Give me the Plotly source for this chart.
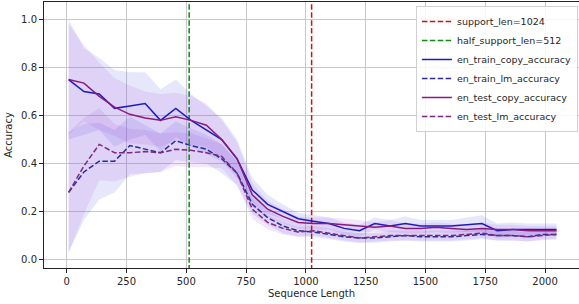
import plotly.graph_objects as go

seq_len = [8, 72, 136, 200, 264, 328, 392, 456, 520, 584, 648, 712, 776, 840, 904, 968,
           1032, 1096, 1160, 1224, 1288, 1352, 1416, 1480, 1544, 1608, 1672, 1736, 1800,
           1864, 1928, 1992, 2048]

train_copy = [0.75, 0.70, 0.69, 0.63, 0.64, 0.65, 0.58, 0.63, 0.58, 0.54, 0.50, 0.42, 0.29,
              0.23, 0.20, 0.17, 0.16, 0.15, 0.13, 0.12, 0.15, 0.14, 0.15, 0.14, 0.14, 0.14,
              0.145, 0.15, 0.12, 0.125, 0.125, 0.125, 0.125]
test_copy = [0.75, 0.735, 0.68, 0.635, 0.605, 0.59, 0.58, 0.595, 0.58, 0.56, 0.50, 0.42, 0.27,
             0.21, 0.18, 0.155, 0.15, 0.15, 0.145, 0.14, 0.135, 0.14, 0.13, 0.13, 0.135, 0.13,
             0.125, 0.13, 0.125, 0.125, 0.12, 0.12, 0.12]
train_lm = [0.28, 0.365, 0.41, 0.41, 0.475, 0.46, 0.445, 0.495, 0.475, 0.46, 0.42, 0.36, 0.23,
            0.175, 0.14, 0.12, 0.115, 0.105, 0.095, 0.09, 0.09, 0.095, 0.10, 0.095, 0.095,
            0.095, 0.10, 0.105, 0.10, 0.10, 0.095, 0.105, 0.105]
test_lm = [0.28, 0.39, 0.48, 0.445, 0.445, 0.45, 0.445, 0.46, 0.455, 0.445, 0.43, 0.36, 0.21,
           0.155, 0.13, 0.115, 0.12, 0.11, 0.10, 0.09, 0.095, 0.10, 0.10, 0.10, 0.10, 0.10,
           0.105, 0.11, 0.10, 0.10, 0.095, 0.10, 0.105]

train_copy_std = [0.25, 0.18, 0.15, 0.16, 0.14, 0.13, 0.13, 0.12, 0.11, 0.10, 0.09, 0.08, 0.05,
                  0.04, 0.03, 0.025, 0.025, 0.025, 0.025, 0.025, 0.025, 0.025, 0.03, 0.025,
                  0.025, 0.025, 0.03, 0.035, 0.03, 0.03, 0.025, 0.025, 0.025]
test_copy_std = [0.23, 0.16, 0.14, 0.12, 0.12, 0.11, 0.11, 0.10, 0.10, 0.09, 0.08, 0.07, 0.05,
                 0.035, 0.03, 0.025, 0.025, 0.025, 0.025, 0.025, 0.02, 0.025, 0.02, 0.02, 0.02,
                 0.02, 0.02, 0.025, 0.02, 0.02, 0.02, 0.02, 0.02]
train_lm_std = [0.25, 0.20, 0.16, 0.13, 0.12, 0.10, 0.08, 0.08, 0.07, 0.06, 0.06, 0.05, 0.04,
                0.03, 0.03, 0.025, 0.02, 0.02, 0.02, 0.02, 0.02, 0.02, 0.02, 0.02, 0.02, 0.02,
                0.02, 0.02, 0.02, 0.02, 0.02, 0.02, 0.02]
test_lm_std = [0.25, 0.20, 0.15, 0.12, 0.10, 0.09, 0.08, 0.07, 0.07, 0.06, 0.05, 0.05, 0.04,
               0.03, 0.025, 0.02, 0.02, 0.02, 0.02, 0.02, 0.02, 0.02, 0.02, 0.02, 0.02, 0.02,
               0.02, 0.02, 0.02, 0.02, 0.02, 0.02, 0.02]

support_len = 1024
half_support_len = 512

TRAIN_C = "#1c1cc0"
TRAIN_LM_C = "#2a2a9a"
TEST_C = "#8a1a7e"
TEST_LM_C = "#7a2a80"
TRAIN_FILL = "rgba(70,70,235,0.13)"
TEST_FILL = "rgba(160,70,210,0.13)"
DASH = "5.5px,2.4px"

fig = go.Figure()

def band(mean, std, fill):
    up = [m + s for m, s in zip(mean, std)]
    lo = [m - s for m, s in zip(mean, std)]
    fig.add_trace(go.Scatter(x=seq_len, y=up, mode="lines", line=dict(width=0),
                             showlegend=False, hoverinfo="skip"))
    fig.add_trace(go.Scatter(x=seq_len, y=lo, mode="lines", line=dict(width=0),
                             fill="tonexty", fillcolor=fill, showlegend=False,
                             hoverinfo="skip"))

band(train_copy, train_copy_std, TRAIN_FILL)
band(train_lm, train_lm_std, TRAIN_FILL)
band(test_copy, test_copy_std, TEST_FILL)
band(test_lm, test_lm_std, TEST_FILL)

fig.add_trace(go.Scatter(x=[support_len, support_len], y=[-1, 2], mode="lines",
                         line=dict(color="#d01010", width=1.5, dash=DASH),
                         name="support_len=1024"))
fig.add_trace(go.Scatter(x=[half_support_len, half_support_len], y=[-1, 2], mode="lines",
                         line=dict(color="#108a10", width=1.5, dash=DASH),
                         name="half_support_len=512"))
fig.add_trace(go.Scatter(x=seq_len, y=train_copy, mode="lines",
                         line=dict(color=TRAIN_C, width=1.5),
                         name="en_train_copy_accuracy"))
fig.add_trace(go.Scatter(x=seq_len, y=train_lm, mode="lines",
                         line=dict(color=TRAIN_LM_C, width=1.5, dash=DASH),
                         name="en_train_lm_accuracy"))
fig.add_trace(go.Scatter(x=seq_len, y=test_copy, mode="lines",
                         line=dict(color=TEST_C, width=1.5),
                         name="en_test_copy_accuracy"))
fig.add_trace(go.Scatter(x=seq_len, y=test_lm, mode="lines",
                         line=dict(color=TEST_LM_C, width=1.5, dash=DASH),
                         name="en_test_lm_accuracy"))

axis_common = dict(showgrid=True, gridcolor="#c8c8c8", gridwidth=1, zeroline=False,
                   showline=True, linecolor="#222222", linewidth=1, mirror=True,
                   ticks="outside", ticklen=4, tickcolor="#222222",
                   tickfont=dict(family="DejaVu Sans", size=10, color="#262626"))

fig.update_layout(
    width=579, height=304,
    margin=dict(l=44, r=0, t=2, b=36),
    paper_bgcolor="white", plot_bgcolor="white",
    font=dict(family="DejaVu Sans", size=10, color="#262626"),
    xaxis=dict(range=[-95, 2142], tickvals=[0, 250, 500, 750, 1000, 1250, 1500, 1750, 2000],
               title=dict(text="Sequence Length", standoff=3,
                          font=dict(family="DejaVu Sans", size=10)),
               **axis_common),
    yaxis=dict(range=[-0.035, 1.073], tickvals=[0, 0.2, 0.4, 0.6, 0.8, 1.0],
               tickformat=".1f",
               title=dict(text="Accuracy", standoff=6,
                          font=dict(family="DejaVu Sans", size=10)),
               **axis_common),
    legend=dict(x=0.998, y=0.985, xanchor="right", yanchor="top", traceorder="normal",
                bgcolor="rgba(255,255,255,0.85)", bordercolor="#d0d0d0", borderwidth=1,
                font=dict(family="DejaVu Sans", size=9.5, color="#262626"),
                itemwidth=30, tracegroupgap=0),
    showlegend=True,
)

fig.write_html("out.html", config={"displayModeBar": False},
               post_script="document.body.style.margin='0px';")
